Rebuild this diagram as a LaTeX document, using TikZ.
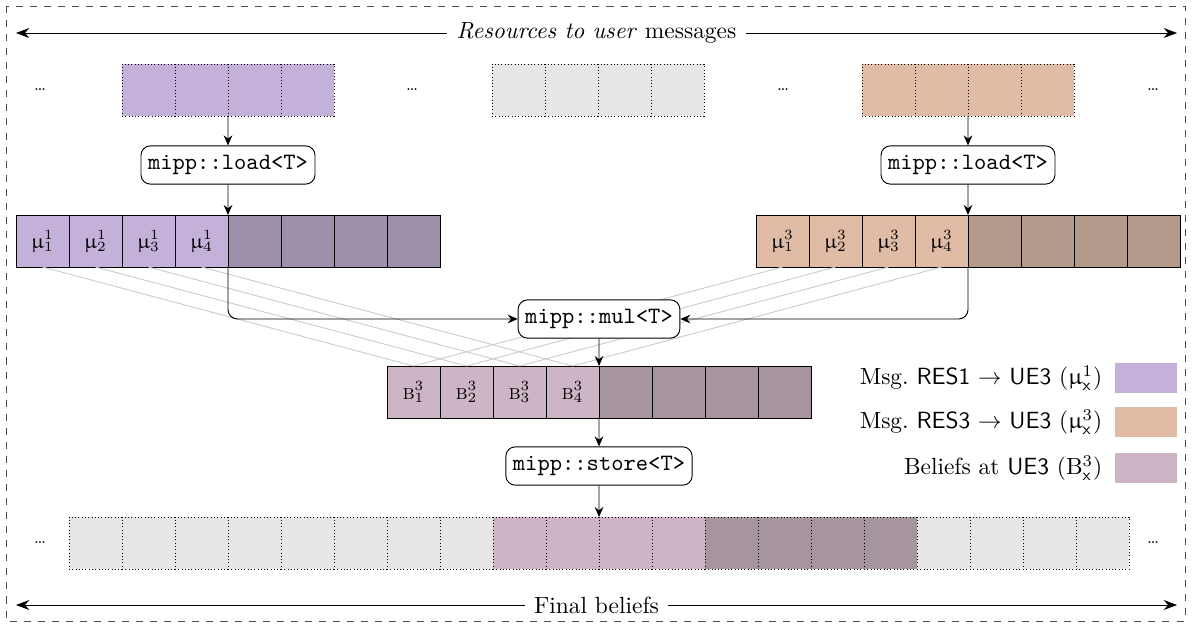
\documentclass[tikz,border=0pt]{standalone}
\usepackage{amsmath,amssymb}
\usepackage{upgreek}
\usetikzlibrary{arrows.meta,positioning}
\definecolor{msgone}{HTML}{C3B1D9}
\definecolor{msgonedark}{HTML}{9E8FAA}
\definecolor{msgthree}{HTML}{E0BCA7}
\definecolor{msgthreedark}{HTML}{B39A8B}
\definecolor{belief}{HTML}{CDB5C5}
\definecolor{beliefdark}{HTML}{A6949F}
\definecolor{unused}{HTML}{E6E6E6}
\newcommand{\msg}[2]{\ensuremath{\upmu^{#1}_{#2}}}
\newcommand{\blf}[1]{\ensuremath{\text{\textsc{b}}^{3}_{#1}}}

\begin{document}
\begin{tikzpicture}[
    x=0.015cm, y=-0.015cm,
    cell/.style={draw, minimum width=0.795cm, minimum height=0.78cm, inner sep=0pt,
                 outer sep=0pt, anchor=north west, font=\small},
    dotcell/.style={cell, densely dotted},
    op/.style={draw, rounded corners, fill=white, font=\ttfamily, inner xsep=3pt,
               inner ysep=4pt, minimum height=0.5cm},
    key/.style={minimum width=0.93cm, minimum height=0.45cm, inner sep=0pt},
    dots/.style={font=\scriptsize},
    link/.style={gray!40, thin},
    flow/.style={-{Stealth[length=1.5mm, width=1.3mm]}},
    span/.style={{Stealth[length=2mm]}-{Stealth[length=2mm]}}]
  \useasboundingbox (0,0) rectangle (1192,628);
  \draw[dashed, gray!60!black] (6,6) rectangle (1185,621);

  \coordinate (tl) at (16,33);
  \coordinate (tr) at (1177,33);
  \draw[span] (tl) -- node[fill=white, inner xsep=4pt]{\textit{Resources to user} messages} (tr);
  \coordinate (bl) at (16,605);
  \coordinate (br) at (1177,605);
  \draw[span] (bl) -- node[fill=white, inner xsep=4pt]{Final beliefs} (br);

  % messages in memory
  \foreach \i in {1,...,4} {
    \node[dotcell, fill=msgone] (a\i) at (69+53*\i,64) {};
    \node[dotcell, fill=unused] (g\i) at (439+53*\i,64) {};
    \node[dotcell, fill=msgthree] (c\i) at (809+53*\i,64) {};
  }
  \foreach \x in {40,412,783,1153}
    \node[dots] at (\x,90) {\dots};

  % registers
  \foreach \i in {1,...,4} {
    \node[cell, fill=msgone] (l\i) at (-37+53*\i,215) {\msg{1}{\i}};
    \node[cell, fill=msgthree] (r\i) at (703+53*\i,215) {\msg{3}{\i}};
    \node[cell, fill=belief] (b\i) at (334+53*\i,366) {\blf{\i}};
  }
  \foreach \i in {5,...,8} {
    \node[cell, fill=msgonedark] (l\i) at (-37+53*\i,215) {};
    \node[cell, fill=msgthreedark] (r\i) at (703+53*\i,215) {};
    \node[cell, fill=beliefdark] (b\i) at (334+53*\i,366) {};
  }

  \foreach \i in {1,...,4} {
    \draw[link] (l\i.south) -- (b\i.north);
    \draw[link] (r\i.south) -- (b\i.north);
  }

  % final beliefs
  \foreach \i in {1,...,8}
    \node[dotcell, fill=unused] (f\i) at (16+53*\i,517) {};
  \foreach \i in {9,...,12}
    \node[dotcell, fill=belief] (f\i) at (16+53*\i,517) {};
  \foreach \i in {13,...,16}
    \node[dotcell, fill=beliefdark] (f\i) at (16+53*\i,517) {};
  \foreach \i in {17,...,20}
    \node[dotcell, fill=unused] (f\i) at (16+53*\i,517) {};
  \node[dots] at (40,543) {\dots};
  \node[dots] at (1153,543) {\dots};

  \node[op] (loadl) at (228,165) {mipp::load<T>};
  \node[op] (loadr) at (968,165) {mipp::load<T>};
  \node[op] (mul) at (599,319) {mipp::mul<T>};
  \node[op] (store) at (599,466) {mipp::store<T>};

  \draw[flow] (a2.south east) -- (loadl);
  \draw[flow] (loadl) -- (l4.north east);
  \draw[flow] (c2.south east) -- (loadr);
  \draw[flow] (loadr) -- (r4.north east);
  \draw[flow, rounded corners] (l4.south east) |- (mul.west);
  \draw[flow, rounded corners] (r4.south east) |- (mul.east);
  \draw[flow] (mul) -- (b4.north east);
  \draw[flow] (b4.south east) -- (store);
  \draw[flow] (store) -- (f10.north east);

  % legend
  \node[key, fill=msgone] (k1) at (1146,378) {};
  \node[key, fill=msgthree] (k2) at (1146,422) {};
  \node[key, fill=belief] (k3) at (1146,468) {};
  \node[left=0.6mm of k1] {Msg.\ \textsf{RES1} $\rightarrow$ \textsf{UE3} ($\upmu^1_{\mathsf{x}}$)};
  \node[left=0.6mm of k2] {Msg.\ \textsf{RES3} $\rightarrow$ \textsf{UE3} ($\upmu^3_{\mathsf{x}}$)};
  \node[left=0.6mm of k3] {Beliefs at \textsf{UE3} ($\mathrm{B}^3_{\mathsf{x}}$)};
\end{tikzpicture}
\end{document}
